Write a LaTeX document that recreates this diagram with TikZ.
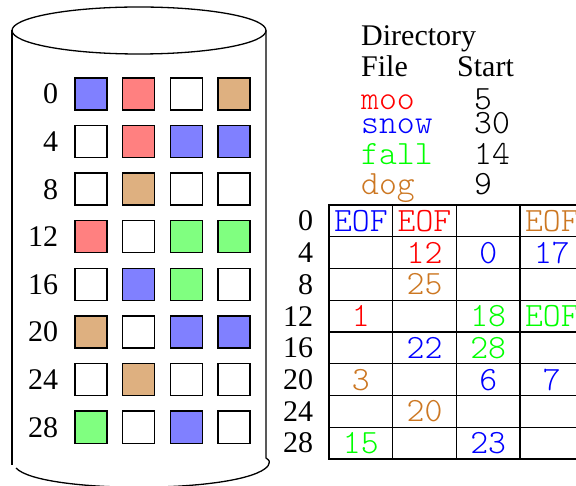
\documentclass[tikz,border=0pt]{standalone}
\usepackage{fontspec}
\setmainfont{Liberation Serif}
\setmonofont{Latin Modern Mono Light}
\definecolor{fblue}{RGB}{128,128,255}
\definecolor{fred}{RGB}{255,128,128}
\definecolor{fgreen}{RGB}{128,255,128}
\definecolor{ftan}{RGB}{222,176,128}
\definecolor{tbrown}{RGB}{204,119,34}
\definecolor{tgreen}{RGB}{0,255,0}
\definecolor{tblue}{RGB}{0,0,255}
\definecolor{tred}{RGB}{255,0,0}
\tikzset{
  blk/.style={draw=black, line width=1.4pt, minimum size=32pt, inner sep=0pt},
  cell/.style={draw=black, line width=1.3pt, minimum width=63.67pt, minimum height=31.75pt, inner sep=0pt, font=\fontsize{34}{36}\ttfamily},
  serifl/.style={font=\fontsize{30}{32}\selectfont, inner sep=0pt},
  monol/.style={font=\fontsize{34}{36}\ttfamily, inner sep=0pt},
  cyl/.style={line width=1.3pt}
}
\begin{document}
\begin{tikzpicture}[x=1pt,y=-1pt]
\useasboundingbox (0,0) rectangle (576,486);
% cylinder
\draw[cyl] (139,30.5) ellipse [x radius=127pt, y radius=23.5pt];
\draw[cyl] (12,30.5) -- (12,465);
\draw[cyl] (266,30.5) -- (266,458) .. controls (270,461) .. (268,466);
\draw[cyl] (16,468) .. controls (40,494) and (244,494) .. (268,466);
% disk blocks
\foreach \i/\lab/\cols in {0/0/{fblue,fred,white,ftan},1/4/{white,fred,fblue,fblue},2/8/{white,ftan,white,white},3/12/{fred,white,fgreen,fgreen},4/16/{white,fblue,fgreen,white},5/20/{ftan,white,fblue,fblue},6/24/{white,ftan,white,white},7/28/{fgreen,white,fblue,white}}{
  \foreach \c [count=\j from 0] in \cols {
    \node[blk, fill=\c] (b-\i-\j) at ({91+47.67*\j},{94+47.6*\i}) {};
  }
  \node[serifl, anchor=east] (bl-\i) at ([xshift=-16pt]b-\i-0.west) {\lab};
}
% directory
\node[serifl, anchor=base west] (dir) at (361,46) {Directory};
\node[serifl, anchor=base west] (hfile) at (361,77) {File};
\node[serifl, anchor=base west] (hstart) at (457,77) {Start};
\node[monol, anchor=base west, text=tred] (fmoo) at (361,110) {moo};
\node[monol, anchor=base west] (smoo) at (474,110) {5};
\node[monol, anchor=base west, text=tblue] (fsnow) at (361,134) {snow};
\node[monol, anchor=base west] (ssnow) at (474,134) {30};
\node[monol, anchor=base west, text=tgreen] (ffall) at (361,165) {fall};
\node[monol, anchor=base west] (sfall) at (474,165) {14};
\node[monol, anchor=base west, text=tbrown] (fdog) at (361,195) {dog};
\node[monol, anchor=base west] (sdog) at (474,195) {9};
% FAT table
\foreach \i/\lab/\row in {
  0/0/{EOF/tblue,EOF/tred,{}/black,EOF/tbrown},
  1/4/{{}/black,12/tred,0/tblue,17/tblue},
  2/8/{{}/black,25/tbrown,{}/black,{}/black},
  3/12/{1/tred,{}/black,18/tgreen,EOF/tgreen},
  4/16/{{}/black,22/tblue,28/tgreen,{}/black},
  5/20/{3/tbrown,{}/black,6/tblue,7/tblue},
  6/24/{{}/black,20/tbrown,{}/black,{}/black},
  7/28/{15/tgreen,{}/black,23/tblue,{}/black}}{
  \foreach \t/\col [count=\j from 0] in \row {
    \node[cell, text=\col] (c-\i-\j) at ({329+31.835+63.67*\j},{205+15.875+31.75*\i}) {\t};
  }
  \node[serifl, anchor=east] (cl-\i) at ([xshift=-15pt]c-\i-0.west) {\lab};
}
\end{tikzpicture}
\end{document}
